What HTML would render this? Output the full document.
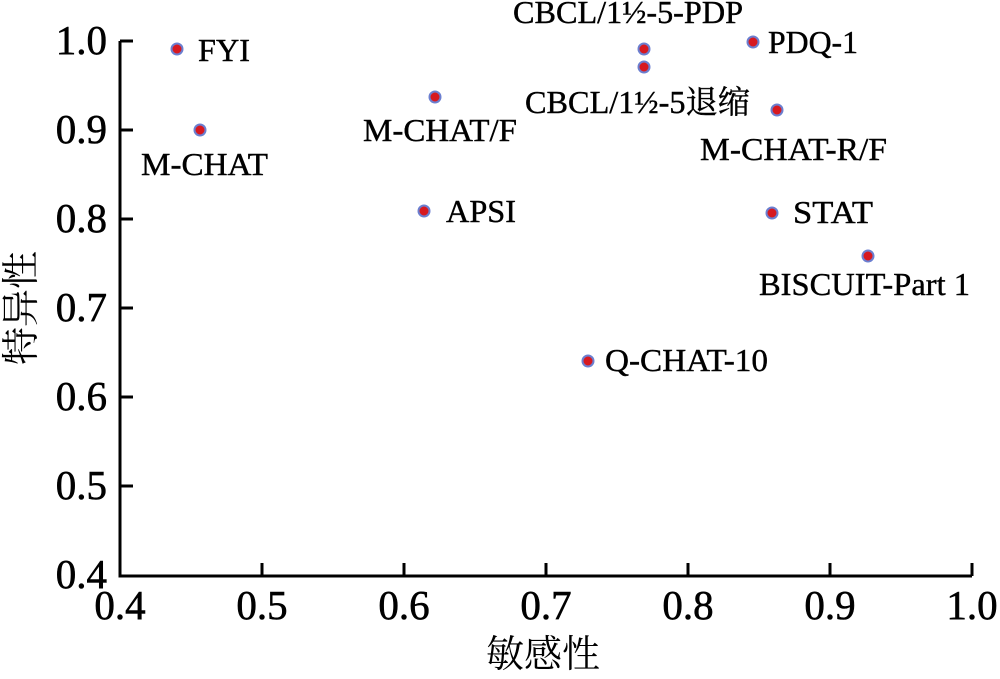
<!DOCTYPE html>
<html><head><meta charset="utf-8"><style>body{margin:0;background:#fff}</style></head><body>
<svg width="1000" height="674" xmlns="http://www.w3.org/2000/svg" font-family="Liberation Serif, Noto Serif CJK SC, serif">
<g stroke="#000" stroke-width="3" fill="none">
<path d="M120,41 V576 H972"/>
<path d="M120,41 h13 M120,130 h13 M120,219 h13 M120,308 h13 M120,397 h13 M120,486 h13"/>
<path d="M262,576 v-13 M404,576 v-13 M546,576 v-13 M688,576 v-13 M830,576 v-13 M972,576 v-13"/>
</g>
<g font-size="41" text-anchor="end" fill="#000" stroke="#000" stroke-width="0.6">
<text x="107" y="54">1.0</text><text x="107" y="143">0.9</text><text x="107" y="232">0.8</text><text x="107" y="321">0.7</text><text x="107" y="410">0.6</text><text x="107" y="499">0.5</text><text x="107" y="588">0.4</text>
</g>
<g font-size="41" text-anchor="middle" fill="#000" stroke="#000" stroke-width="0.6">
<text x="120" y="619">0.4</text><text x="262" y="619">0.5</text><text x="404" y="619">0.6</text><text x="546" y="619">0.7</text><text x="688" y="619">0.8</text><text x="830" y="619">0.9</text><text x="972" y="619">1.0</text>
</g>
<g font-size="38" text-anchor="middle" fill="#000" font-family="Noto Serif CJK SC, serif">
<text x="543" y="667">敏感性</text>
<text transform="translate(34,308) rotate(-90)">特异性</text>
</g>
<g fill="#d71920" stroke="#6b7fd0" stroke-width="2">
<circle cx="177" cy="49" r="5.5"/><circle cx="200" cy="130" r="5.5"/><circle cx="435" cy="97" r="5.5"/><circle cx="424" cy="211" r="5.5"/><circle cx="644" cy="49" r="5.5"/><circle cx="644" cy="67" r="5.5"/><circle cx="753" cy="42" r="5.5"/><circle cx="777" cy="110" r="5.5"/><circle cx="772" cy="213" r="5.5"/><circle cx="868" cy="256" r="5.5"/><circle cx="588" cy="361" r="5.5"/>
</g>
<g font-size="32" fill="#000" stroke="#000" stroke-width="0.4" lengthAdjust="spacingAndGlyphs">
<text x="198" y="61" textLength="52" lengthAdjust="spacingAndGlyphs">FYI</text>
<text x="141" y="175" textLength="127" lengthAdjust="spacingAndGlyphs">M-CHAT</text>
<text x="363" y="141" textLength="154" lengthAdjust="spacingAndGlyphs">M-CHAT/F</text>
<text x="446" y="222" textLength="70" lengthAdjust="spacingAndGlyphs">APSI</text>
<text x="513" y="23" textLength="230" lengthAdjust="spacingAndGlyphs">CBCL/1½-5-PDP</text>
<text x="525" y="113" textLength="225" lengthAdjust="spacingAndGlyphs">CBCL/1½-5<tspan font-family="Noto Serif CJK SC, serif">退缩</tspan></text>
<text x="768" y="53" textLength="90" lengthAdjust="spacingAndGlyphs">PDQ-1</text>
<text x="700" y="160" textLength="187" lengthAdjust="spacingAndGlyphs">M-CHAT-R/F</text>
<text x="793" y="223" textLength="80" lengthAdjust="spacingAndGlyphs">STAT</text>
<text x="759" y="295" textLength="211" lengthAdjust="spacingAndGlyphs">BISCUIT-Part 1</text>
<text x="605" y="371" textLength="163" lengthAdjust="spacingAndGlyphs">Q-CHAT-10</text>
</g>
</svg>
</body></html>
